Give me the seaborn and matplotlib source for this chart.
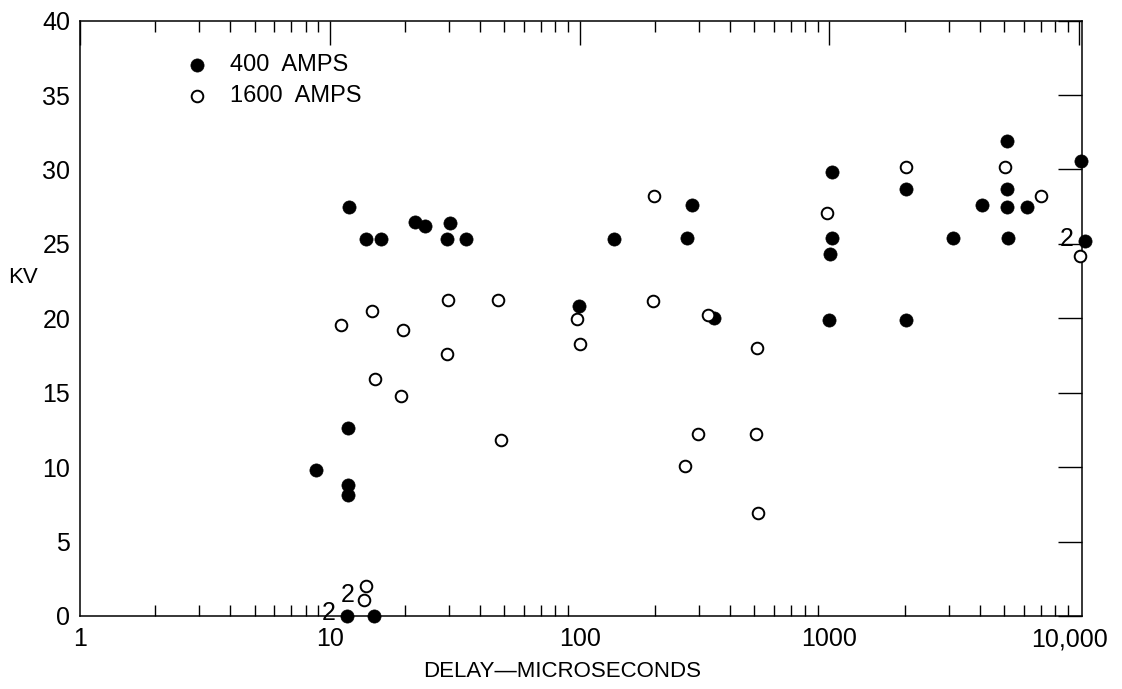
import numpy as np
import pandas as pd
import matplotlib
matplotlib.use("Agg")
import matplotlib.pyplot as plt
import matplotlib.transforms as mtransforms
import seaborn as sns
from matplotlib.ticker import FixedLocator, LogLocator, NullFormatter

# 400 AMPS (filled circles)
delay_400 = [8.8, 11.8, 11.8, 11.8, 11.7, 15.0, 11.9, 13.9, 16.1, 21.9, 24.0,
             30.2, 29.4, 35.0, 99.4, 137, 282, 270, 346, 1025, 1021, 1006,
             1000, 2034, 2027, 3133, 4065, 5118, 5118, 5118, 5187, 6152,
             10190, 10540]
kv_400 = [9.8, 12.6, 8.8, 8.1, 0.0, 0.0, 27.5, 25.3, 25.3, 26.5, 26.2,
          26.4, 25.3, 25.3, 20.8, 25.35, 27.6, 25.4, 20.0, 29.8, 25.4, 24.3,
          19.9, 28.7, 19.9, 25.4, 27.6, 31.9, 28.7, 27.5, 25.4, 27.5,
          30.6, 25.2]

# 1600 AMPS (open circles)
delay_1600 = [14.0, 13.7, 11.1, 14.8, 15.1, 19.6, 19.2, 29.7, 29.4, 47.3,
              48.6, 97.5, 100, 198, 196, 326, 263, 299, 512, 509, 517, 982,
              2027, 5025, 7030, 10090]
kv_1600 = [2.0, 1.1, 19.55, 20.5, 15.9, 19.2, 14.8, 21.2, 17.6, 21.2,
           11.8, 19.95, 18.3, 28.2, 21.15, 20.25, 10.1, 12.2, 18.0, 12.2, 6.9,
           27.1, 30.2, 30.2, 28.2, 24.2]

# "2" markings for coincident points
mult_x = [9.9, 11.8, 8880]
mult_y = [0.2, 1.4, 25.3]

x_ticks = [1, 10, 100, 1000, 10000]
x_labels = ["1", "10", "100", "1000", "10,000"]
y_ticks = [0, 5, 10, 15, 20, 25, 30, 35, 40]

df400 = pd.DataFrame({"delay": delay_400, "kv": kv_400})
df1600 = pd.DataFrame({"delay": delay_1600, "kv": kv_1600})

sns.set_style("white")
plt.rcParams['font.family'] = ['Liberation Sans', 'DejaVu Sans']
plt.rcParams['text.color'] = 'black'

fig = plt.figure(figsize=(11.22, 6.89), dpi=100)
ax = fig.add_axes([0.0713, 0.106, 0.893, 0.864])

sns.scatterplot(data=df400, x="delay", y="kv", ax=ax, s=90, color="black",
                edgecolor="black", linewidth=0.5, label="400  AMPS", clip_on=False, zorder=3)
sns.scatterplot(data=df1600, x="delay", y="kv", ax=ax, s=70, facecolor="white",
                edgecolor="black", linewidth=1.4, label="1600  AMPS", clip_on=False, zorder=4)

ax.set_xscale("log")
ax.set_xlim(1, 10250)
ax.set_ylim(0, 40)

ax.xaxis.set_major_locator(FixedLocator(x_ticks))
ax.set_xticklabels(x_labels)
ax.xaxis.set_minor_locator(LogLocator(base=10, subs=np.arange(2, 10)))
ax.xaxis.set_minor_formatter(NullFormatter())
ax.set_yticks(y_ticks)
ax.set_yticklabels([str(v) for v in y_ticks])

ax.tick_params(axis="both", which="major", direction="in", length=17, width=1.0,
               top=True, right=True, labelsize=18, color="black", labelcolor="black")
ax.tick_params(axis="x", which="major", pad=8)
ax.tick_params(axis="y", which="major", pad=7)
ax.tick_params(axis="x", which="minor", direction="in", length=8, width=1.0,
               top=True, bottom=True, color="black")
for sp in ax.spines.values():
    sp.set_linewidth(1.1)
    sp.set_color("black")

# nudge the last x label left like the original lettering
last = ax.get_xticklabels()[-1]
last.set_transform(last.get_transform() + mtransforms.ScaledTranslation(-10 / 100, 0, fig.dpi_scale_trans))

for xx, yy in zip(mult_x, mult_y):
    ax.text(xx, yy, "2", fontsize=18, ha="center", va="center", zorder=5)

ax.set_xlabel("")
ax.set_ylabel("")
ax.text(-0.057, 0.569, "KV", transform=ax.transAxes, fontsize=16,
        ha="center", va="center")
fig.text(0.501, 0.025, "DELAY—MICROSECONDS", fontsize=16, ha="center", va="center")

ax.legend(loc="upper left", bbox_to_anchor=(0.105, 0.944), frameon=False,
          fontsize=17, handlelength=1.0, handletextpad=0.9, borderpad=0,
          borderaxespad=0, labelspacing=0.38)

fig.savefig("out.png", dpi=100)
